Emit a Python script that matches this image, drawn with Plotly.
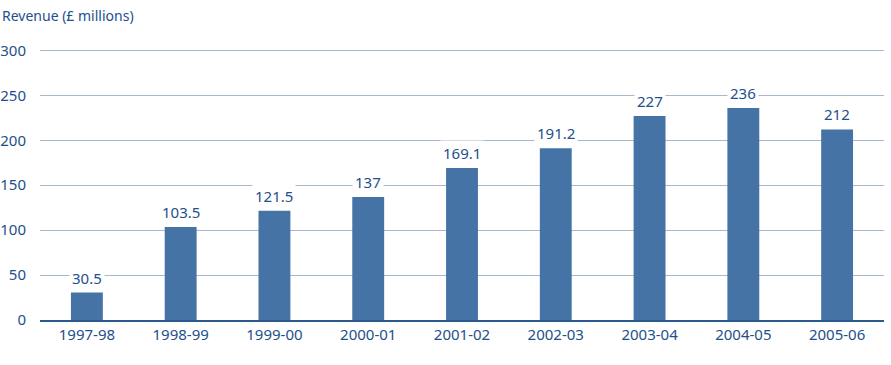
import plotly.graph_objects as go

years = ["1997-98", "1998-99", "1999-00", "2000-01", "2001-02", "2002-03", "2003-04", "2004-05", "2005-06"]
revenue = [30.5, 103.5, 121.5, 137, 169.1, 191.2, 227, 236, 212]
labels = ["30.5", "103.5", "121.5", "137", "169.1", "191.2", "227", "236", "212"]
yticks = [0, 50, 100, 150, 200, 250, 300]

txt = "#23508a"
fnt = "Noto Sans, DejaVu Sans, sans-serif"

fig = go.Figure()
fig.add_trace(go.Bar(x=years, y=revenue, marker=dict(color="#4673a5", line=dict(width=0)), hoverinfo="skip"))

for yr, v, lab in zip(years, revenue, labels):
    fig.add_annotation(x=yr, y=v, text=lab, showarrow=False, yanchor="bottom", yshift=2,
                       bgcolor="white", borderpad=2, font=dict(size=15, color=txt, family=fnt))

fig.add_annotation(x=0, y=1, xref="paper", yref="paper", xanchor="left", yanchor="bottom",
                   text="Revenue (£ millions)", showarrow=False, xshift=-40, yshift=18,
                   font=dict(size=14, color=txt, family=fnt))

fig.update_layout(
    width=891, height=365, margin=dict(l=40, r=7, t=45, b=45, autoexpand=False),
    plot_bgcolor="white", paper_bgcolor="white", bargap=0.66, showlegend=False,
    font=dict(family=fnt, color=txt, size=15),
)
fig.update_xaxes(type="category", showgrid=False, showline=True, linecolor="#2b5a8c", linewidth=2, ticks="",
                 tickfont=dict(size=15, color=txt), fixedrange=True, automargin=False)
fig.update_yaxes(range=[0, 306], tickvals=yticks, showgrid=True, gridcolor="#a7b8cb", gridwidth=1,
                 zeroline=False, ticks="outside", ticklen=10, tickcolor="rgba(0,0,0,0)",
                 tickfont=dict(size=15, color=txt), fixedrange=True, automargin=False)

fig.write_html("out.html")
